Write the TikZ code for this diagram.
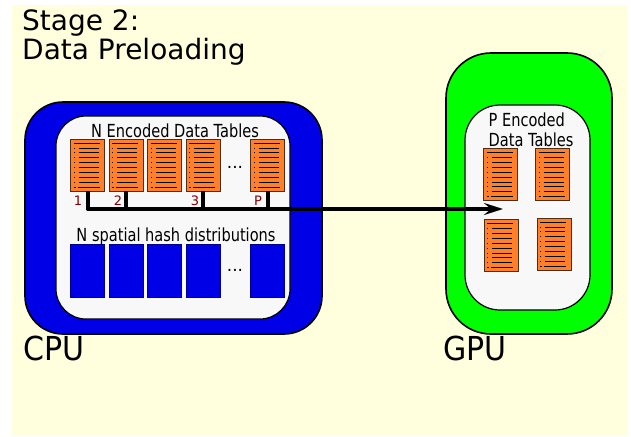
\documentclass[tikz,border=0pt]{standalone}
\usepackage{fontspec}
\setmainfont{DejaVu Sans}
\newfontfamily\narrowfont[FakeStretch=0.81]{DejaVu Sans}
\newfontfamily\captionfont[FakeStretch=0.91]{DejaVu Sans}
\usetikzlibrary{arrows.meta, positioning}
\definecolor{paper}{HTML}{FFFFDD}
\definecolor{cpublue}{HTML}{0000E6}
\definecolor{gpugreen}{HTML}{00FF00}
\definecolor{innergray}{HTML}{F8F8F8}
\definecolor{tableorange}{HTML}{FF7F2A}
\definecolor{tableedge}{HTML}{502D16}
\definecolor{labelred}{HTML}{800000}

\begin{document}
\begin{tikzpicture}[
        x=1pt, y=-1pt,
        node distance=4.5pt,
        chip/.style={draw=black, line width=1.6pt, rounded corners=38pt, inner sep=0pt, outer sep=0pt},
        inner/.style={draw=black, line width=1.2pt, fill=innergray, rounded corners=30pt, inner sep=0pt, outer sep=0pt},
        hashbox/.style={draw=cpublue!60!black, line width=0.6pt, fill=cpublue, minimum width=34pt, minimum height=53pt, inner sep=0pt, outer sep=0pt},
        tablebox/.style={draw=tableedge, line width=0.8pt, fill=tableorange, minimum width=34pt, minimum height=52pt, inner sep=0pt, outer sep=0pt,
            path picture={
                \foreach \rowy in {-17.1,-12.2,...,18} {
                    \draw[black, line width=0.7pt] (-9,\rowy) -- (11,\rowy);
                    \fill[black] (-14,\rowy-0.4) rectangle (-13,\rowy+0.4);
                }
                \draw[black, line width=0.7pt] (-14,-22) -- (12,-22);
                \draw[black, line width=0.7pt] (-14,22) -- (-12,22) (-10,22) -- (12,22);
            }},
        caption/.style={font=\captionfont\fontsize{33}{35}\selectfont, inner sep=0pt},
        small/.style={font=\narrowfont\fontsize{18}{20}\selectfont, inner sep=0pt, align=left},
        num/.style={font=\fontsize{13}{13}\selectfont, text=labelred, inner sep=0pt},
        dotslabel/.style={font=\fontsize{17}{17}\selectfont, inner sep=0pt},
        bus/.style={line width=4pt, black}
    ]
        \useasboundingbox (0,0) rectangle (631,436);
        \fill[paper] (12,5) rectangle (628,436);

        \node[inner sep=0pt, align=left, anchor=north west, font=\fontsize{28}{27}\selectfont] (title) at (22,10) {Stage 2:\\Data Preloading};

        % CPU side
        \node[chip, fill=cpublue, minimum width=297pt, minimum height=232pt] (cpu) at (173.5,218) {};
        \node[inner, minimum width=234pt, minimum height=203pt] (cpuInner) at (173,217.5) {};
        \node[caption, anchor=north west] (cpuLabel) at (23,336) {CPU};
        \node[small] (tablesLabel) at (175,131) {N Encoded Data Tables};
        \node[small] (hashLabel) at (176,237) {N spatial hash distributions};

        \node[tablebox] (tableA) at (87.5,165) {};
        \node[tablebox, right=of tableA] (tableB) {};
        \node[tablebox, right=of tableB] (tableC) {};
        \node[tablebox, right=of tableC] (tableD) {};
        \node[tablebox] (tableP) at (267.5,165) {};
        \node[dotslabel] (tableDots) at (235,167) {...};

        \node[hashbox] (hashA) at (87.5,270.5) {};
        \node[hashbox, right=of hashA] (hashB) {};
        \node[hashbox, right=of hashB] (hashC) {};
        \node[hashbox, right=of hashC] (hashD) {};
        \node[hashbox] (hashP) at (267.5,270.5) {};
        \node[dotslabel] (hashDots) at (235,270) {...};

        \node[num] (numA) at (78,200.5) {1};
        \node[num] (numB) at (118,200.5) {2};
        \node[num] (numD) at (195,200.5) {3};
        \node[num] (numP) at (258,200.5) {P};

        % GPU side
        \node[chip, fill=gpugreen, rounded corners=45pt, minimum width=166pt, minimum height=281pt] (gpu) at (529,193.5) {};
        \node[inner, rounded corners=35pt, minimum width=125pt, minimum height=205pt] (gpuInner) at (527.5,207.5) {};
        \node[caption, anchor=north west] (gpuLabel) at (443,336) {GPU};
        \node[small] (gpuTablesLabel) at (531,130) {P Encoded\\Data Tables};

        \node[tablebox] (gpuTableA) at (500.5,174.5) {};
        \node[tablebox] (gpuTableB) at (552.5,174.5) {};
        \node[tablebox] (gpuTableC) at (501,245.5) {};
        \node[tablebox] (gpuTableD) at (554,244) {};

        % Data flows
        \coordinate (busStart) at (tableA.south |- 0,209);
        \coordinate (busEnd) at (503,209);
        \draw[bus, -{Stealth[length=19pt, width=12pt, inset=7pt]}, line join=round] (tableA.south) -- (busStart) -- (busEnd);
        \draw[bus] (tableB.south) -- (tableB.south |- busStart);
        \draw[bus] (tableD.south) -- (tableD.south |- busStart);
        \draw[bus] (tableP.south) -- (tableP.south |- busStart);
    \end{tikzpicture}
\end{document}
